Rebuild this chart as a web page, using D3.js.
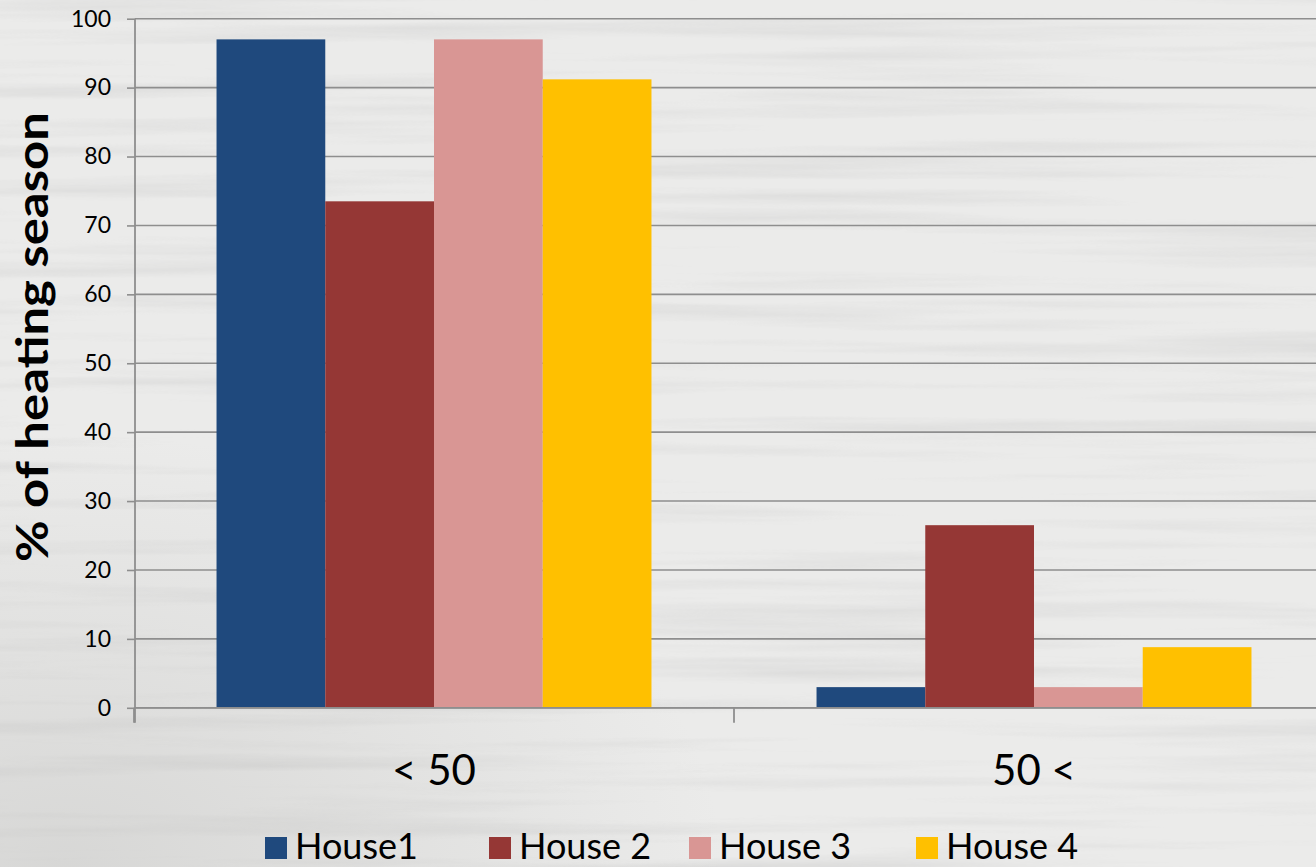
<!DOCTYPE html>
<html>
<head>
<meta charset="utf-8">
<script src="https://cdn.jsdelivr.net/npm/d3@7"></script>
<style>
  html, body { margin: 0; padding: 0; background: #ebebea; }
  svg { display: block; }
</style>
</head>
<body>
<svg id="chart" width="1316" height="867"></svg>
<script>
// Share of the heating season per temperature band, by house
const categories = ["< 50", "50 <"];
const seriesNames = ["House1", "House 2", "House 3", "House 4"];
const house1 = [97, 3];
const house2 = [73.5, 26.5];
const house3 = [97, 3];
const house4 = [91.2, 8.8];
const yTicks = [0, 10, 20, 30, 40, 50, 60, 70, 80, 90, 100];
const colors = ["#1F497D", "#953735", "#D99694", "#FFC000"];

const seriesValues = [house1, house2, house3, house4];
const rows = categories.map((c, i) => ({
  category: c,
  values: seriesNames.map((s, j) => ({ series: s, value: seriesValues[j][i] }))
}));

const W = 1316, H = 867;
const svg = d3.select("#chart");
const FONT = "Lato, 'Open Sans', sans-serif";
const grid = "#8e8e8e";

// wood-grain backdrop
const defs = svg.append("defs");
const f = defs.append("filter").attr("id", "grain")
  .attr("x", 0).attr("y", 0).attr("width", "100%").attr("height", "100%")
  .attr("filterUnits", "userSpaceOnUse");
f.append("feTurbulence").attr("type", "fractalNoise")
  .attr("baseFrequency", "0.0018 0.05").attr("numOctaves", 4).attr("seed", 11);
f.append("feColorMatrix").attr("type", "matrix")
  .attr("values", "0 0 0 0 0.45  0 0 0 0 0.45  0 0 0 0 0.45  2.2 0 0 0 -1.05");
const rg = defs.append("radialGradient").attr("id", "shade")
  .attr("cx", 0.05).attr("cy", 1).attr("r", 0.5);
rg.append("stop").attr("offset", 0).attr("stop-color", "#b9b9b7").attr("stop-opacity", 0.4);
rg.append("stop").attr("offset", 1).attr("stop-color", "#b9b9b7").attr("stop-opacity", 0);

svg.append("rect").attr("width", W).attr("height", H).attr("fill", "#ebebea");
svg.append("rect").attr("width", W).attr("height", H)
  .attr("filter", "url(#grain)").attr("opacity", 0.25);
svg.append("rect").attr("width", W).attr("height", H).attr("fill", "url(#shade)");

// scales
const plotLeft = 134, plotTop = 18.7, plotBottom = 707.8;
const x0 = d3.scaleBand().domain(categories).range([plotLeft, plotLeft + 1200]).padding(0);
const x1 = d3.scaleBand().domain(seriesNames).range([0, x0.bandwidth()])
  .paddingInner(0).paddingOuter(0.759);
const y = d3.scaleLinear().domain([0, 100]).range([plotBottom, plotTop]);

// gridlines
svg.append("g").selectAll("line").data(yTicks).join("line")
  .attr("x1", plotLeft + 1).attr("x2", W)
  .attr("y1", d => y(d)).attr("y2", d => y(d))
  .attr("stroke", grid).attr("stroke-width", 1.6);

// bars
svg.append("g").selectAll("g").data(rows).join("g")
  .attr("transform", d => `translate(${x0(d.category)},0)`)
  .selectAll("rect").data(d => d.values).join("rect")
  .attr("x", d => x1(d.series))
  .attr("width", x1.bandwidth())
  .attr("y", d => y(d.value))
  .attr("height", d => y(0) - y(d.value))
  .attr("fill", (d, i) => colors[i]);

// zero baseline
svg.append("line").attr("x1", plotLeft).attr("x2", W)
  .attr("y1", y(0)).attr("y2", y(0))
  .attr("stroke", grid).attr("stroke-width", 1.8);

// y axis
const yAxis = svg.append("g").attr("transform", `translate(${plotLeft + 1},0)`)
  .call(d3.axisLeft(y).tickValues(yTicks).tickSize(8).tickSizeOuter(0).tickPadding(16));
yAxis.select(".domain").remove();
yAxis.selectAll(".tick line").attr("stroke", grid).attr("stroke-width", 1.6);
yAxis.selectAll(".tick text").attr("font-family", FONT).attr("font-size", 23)
  .attr("fill", "#000");
svg.append("line").attr("x1", plotLeft + 1).attr("x2", plotLeft + 1)
  .attr("y1", plotTop).attr("y2", plotBottom + 15)
  .attr("stroke", grid).attr("stroke-width", 1.8);

// category boundary ticks and labels
const bounds = [0, 1, 2].map(i => plotLeft + i * x0.bandwidth());
svg.append("g").selectAll("line").data(bounds).join("line")
  .attr("x1", d => d).attr("x2", d => d)
  .attr("y1", plotBottom).attr("y2", plotBottom + 15)
  .attr("stroke", grid).attr("stroke-width", 1.8);
const xAxis = svg.append("g").attr("transform", `translate(0,${plotBottom})`)
  .call(d3.axisBottom(x0).tickSize(0).tickPadding(0));
xAxis.select(".domain").remove();
xAxis.selectAll(".tick text").attr("font-family", FONT).attr("font-size", 42)
  .attr("fill", "#000").attr("dy", 0).attr("y", 77);

// y axis title
svg.append("text")
  .attr("transform", `translate(48,337) rotate(-90)`)
  .attr("text-anchor", "middle")
  .attr("font-family", FONT).attr("font-weight", 700).attr("font-size", 44)
  .attr("textLength", 450).attr("lengthAdjust", "spacingAndGlyphs")
  .attr("fill", "#000")
  .text("% of heating season");

// legend
const legendX = [265, 489, 689, 916];
const legend = svg.append("g").selectAll("g").data(seriesNames).join("g")
  .attr("transform", (d, i) => `translate(${legendX[i]},837)`);
legend.append("rect").attr("width", 22).attr("height", 22)
  .attr("fill", (d, i) => colors[i]);
legend.append("text").attr("x", 30).attr("y", 22)
  .attr("font-family", FONT).attr("font-size", 36).attr("fill", "#000")
  .text(d => d);
</script>
</body>
</html>
